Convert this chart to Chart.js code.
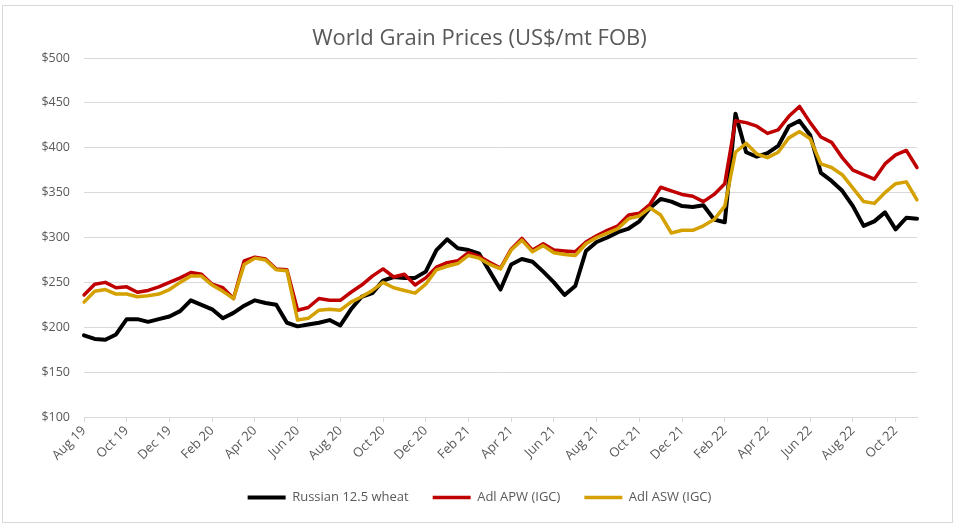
<!DOCTYPE html>
<html>
<head>
<meta charset="utf-8">
<title>World Grain Prices</title>
<script src="https://cdn.jsdelivr.net/npm/chart.js@4.4.0/dist/chart.umd.min.js"></script>
<style>
  html, body { margin: 0; padding: 0; background: #ffffff; }
  #wrap { position: relative; width: 959px; height: 529px; }
</style>
</head>
<body>
<div id="wrap"><canvas id="graficoPrecos"></canvas></div>
<script>
// months on the axis, two readings per month (fortnightly)
const meses = ['Aug 19', 'Sep 19', 'Oct 19', 'Nov 19', 'Dec 19', 'Jan 20', 'Feb 20', 'Mar 20',
  'Apr 20', 'May 20', 'Jun 20', 'Jul 20', 'Aug 20', 'Sep 20', 'Oct 20', 'Nov 20', 'Dec 20',
  'Jan 21', 'Feb 21', 'Mar 21', 'Apr 21', 'May 21', 'Jun 21', 'Jul 21', 'Aug 21', 'Sep 21',
  'Oct 21', 'Nov 21', 'Dec 21', 'Jan 22', 'Feb 22', 'Mar 22', 'Apr 22', 'May 22', 'Jun 22',
  'Jul 22', 'Aug 22', 'Sep 22', 'Oct 22', 'Nov 22'];

const russian = [191, 187, 186, 192, 209, 209, 206, 209, 212, 218,
  230, 225, 220, 210, 216, 224, 230, 227, 225, 205,
  201, 203, 205, 208, 202, 220, 234, 238, 252, 256,
  255, 255, 262, 286, 298, 288, 286, 282, 262, 242,
  270, 276, 273, 262, 250, 236, 246, 285, 295, 300,
  306, 310, 318, 333, 343, 340, 335, 334, 336, 320,
  317, 438, 395, 390, 394, 402, 424, 430, 414, 372,
  363, 352, 335, 313, 318, 328, 309, 322, 321];

const adlAPW = [236, 248, 250, 244, 245, 239, 241, 245, 250, 255,
  261, 259, 248, 244, 232, 274, 278, 276, 265, 264,
  219, 222, 232, 230, 230, 239, 247, 257, 265, 256,
  259, 247, 255, 267, 272, 274, 283, 279, 272, 266,
  287, 299, 286, 293, 286, 285, 284, 295, 302, 308,
  313, 325, 327, 337, 356, 352, 348, 346, 340, 348,
  360, 430, 428, 424, 416, 420, 435, 446, 428, 412,
  406, 389, 375, 370, 365, 382, 392, 397, 378];

const adlASW = [228, 240, 242, 237, 237, 234, 235, 237, 242, 250,
  257, 257, 247, 240, 232, 270, 277, 275, 264, 263,
  208, 210, 219, 220, 219, 228, 234, 241, 250, 244,
  241, 238, 248, 264, 268, 271, 280, 277, 270, 265,
  286, 297, 284, 291, 283, 281, 280, 293, 300, 305,
  310, 321, 324, 333, 325, 305, 308, 308, 313, 320,
  335, 395, 405, 393, 389, 395, 411, 418, 410, 382,
  378, 370, 355, 340, 338, 350, 360, 362, 342];

const labels = [];
meses.forEach(m => { labels.push(m); labels.push(m); });
labels.length = russian.length;

Chart.defaults.font.family = "'Open Sans', 'Liberation Sans', sans-serif";
Chart.defaults.color = '#595959';

// light frame around the whole chart, like the Excel chart area
const moldura = {
  id: 'moldura',
  afterDraw(chart) {
    const ctx = chart.ctx;
    ctx.save();
    ctx.strokeStyle = '#d9d9d9';
    ctx.lineWidth = 1;
    ctx.strokeRect(2.5, 5.5, 950, 517);
    ctx.restore();
  }
};

const ctx = document.getElementById('graficoPrecos').getContext('2d');

new Chart(ctx, {
  type: 'line',
  data: {
    labels,
    datasets: [
      {
        label: 'Russian 12.5 wheat',
        data: russian,
        borderColor: '#000000',
        backgroundColor: '#000000',
        borderWidth: 4,
        order: 2
      },
      {
        label: 'Adl APW (IGC)',
        data: adlAPW,
        borderColor: '#c00000',
        backgroundColor: '#c00000',
        borderWidth: 3.5,
        order: 1
      },
      {
        label: 'Adl ASW (IGC)',
        data: adlASW,
        borderColor: '#d4a100',
        backgroundColor: '#d4a100',
        borderWidth: 3.5,
        order: 0
      }
    ]
  },
  options: {
    responsive: true,
    maintainAspectRatio: false,
    animation: false,
    layout: {
      padding: { left: 0, right: 0, top: 0, bottom: 15 }
    },
    elements: {
      point: { radius: 0, hoverRadius: 0 },
      line: { tension: 0, borderJoinStyle: 'round', borderCapStyle: 'round' }
    },
    scales: {
      x: {
        type: 'category',
        grid: {
          display: true,
          drawOnChartArea: false,
          drawTicks: true,
          tickLength: 5,
          color: '#d9d9d9'
        },
        border: { display: true, color: '#d9d9d9' },
        ticks: {
          autoSkip: false,
          maxRotation: 45,
          minRotation: 45,
          padding: 1,
          color: '#595959',
          font: { size: 13 },
          callback: function (valor, i) {
            return i % 4 === 0 ? this.getLabelForValue(valor) : null;
          }
        },
        afterFit(scale) { scale.height = 50; }
      },
      y: {
        min: 100,
        max: 500,
        grid: { color: '#d9d9d9', lineWidth: 1, drawTicks: false },
        border: { display: false },
        ticks: {
          stepSize: 50,
          padding: 14,
          color: '#595959',
          font: { size: 12.5 },
          callback: v => '$' + v
        },
        afterFit(scale) { scale.width = 84; }
      },
      // empty right margin so the legend centres on the whole chart
      margem: {
        position: 'right',
        display: true,
        grid: { display: false },
        border: { display: false },
        ticks: { display: false },
        afterFit(scale) { scale.width = 42; }
      }
    },
    plugins: {
      title: {
        display: true,
        text: 'World Grain Prices (US$/mt FOB)',
        color: '#595959',
        font: { size: 22, weight: 'normal' },
        padding: { top: 26, bottom: 5.6 }
      },
      legend: {
        position: 'bottom',
        labels: {
          usePointStyle: true,
          pointStyle: 'line',
          pointStyleWidth: 38,
          boxHeight: 13,
          padding: 24,
          color: '#595959',
          font: { size: 13 },
          sort: (a, b) => a.datasetIndex - b.datasetIndex
        }
      },
      tooltip: { enabled: false }
    }
  },
  plugins: [moldura]
});
</script>
</body>
</html>
